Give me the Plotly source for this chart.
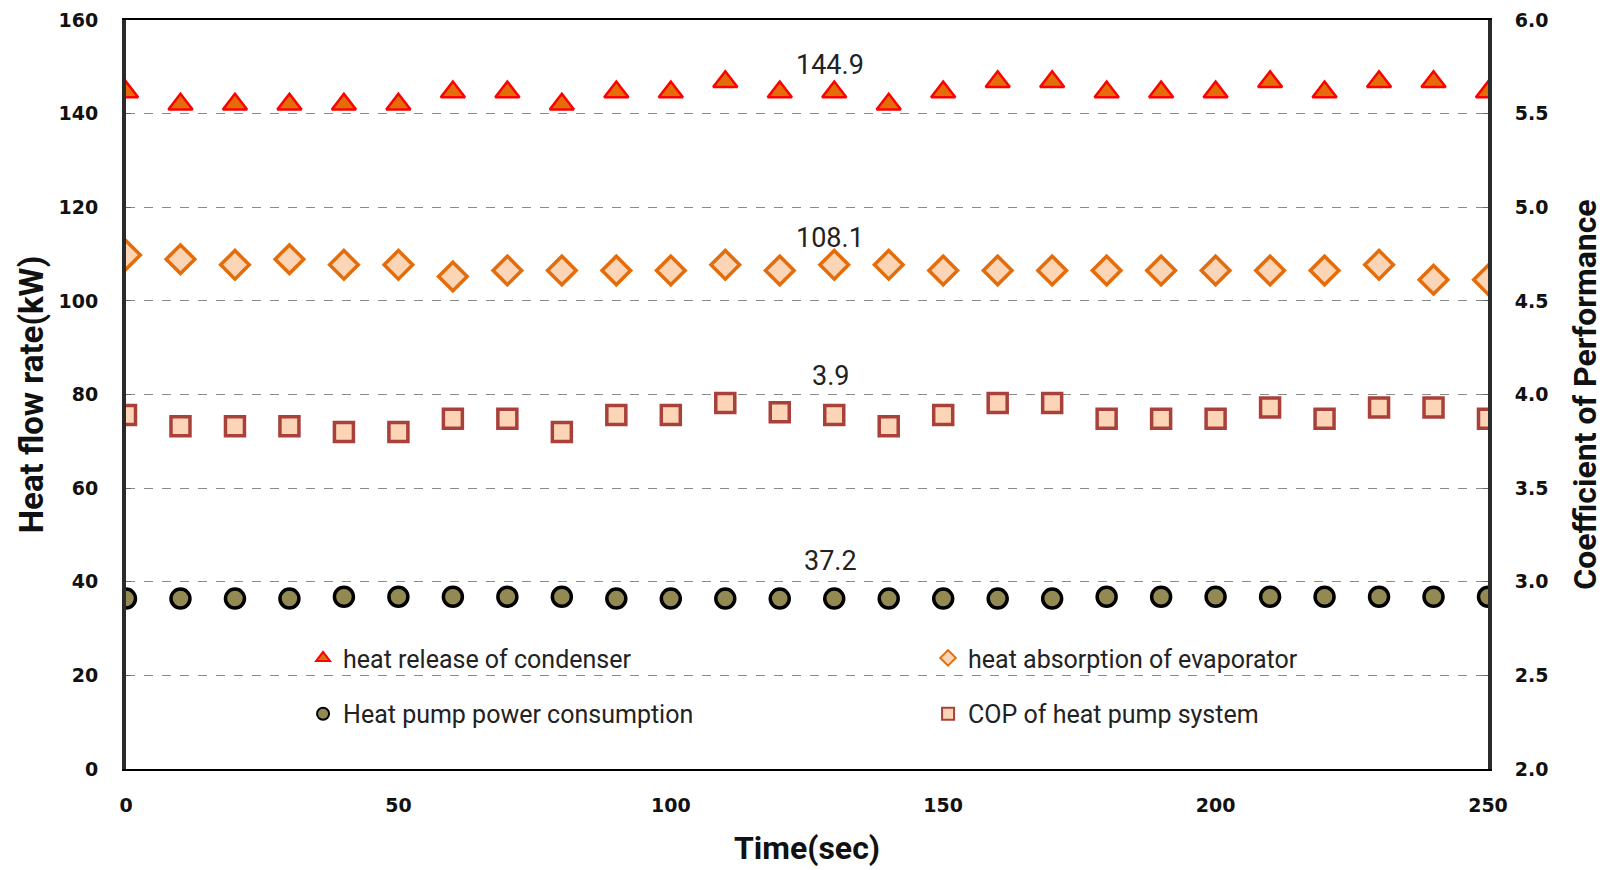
import plotly.graph_objects as go

time_s = [0, 10, 20, 30, 40, 50, 60, 70, 80, 90, 100, 110, 120, 130, 140, 150,
          160, 170, 180, 190, 200, 210, 220, 230, 240, 250]

condenser = [144.6, 142.0, 142.0, 142.0, 142.0, 142.0, 144.6, 144.6, 142.0, 144.6,
             144.6, 146.8, 144.6, 144.6, 142.0, 144.6, 146.8, 146.8, 144.6, 144.6,
             144.6, 146.8, 144.6, 146.8, 146.8, 144.6]

evaporator = [109.8, 108.9, 107.7, 108.9, 107.7, 107.7, 105.2, 106.5, 106.5, 106.5,
              106.5, 107.7, 106.5, 107.7, 107.7, 106.5, 106.5, 106.5, 106.5, 106.5,
              106.5, 106.5, 106.5, 107.7, 104.5, 104.5]

power = [36.4, 36.4, 36.4, 36.4, 36.8, 36.8, 36.8, 36.8, 36.8, 36.4,
         36.4, 36.4, 36.4, 36.4, 36.4, 36.4, 36.4, 36.4, 36.8, 36.8,
         36.8, 36.8, 36.8, 36.8, 36.8, 36.8]

cop = [3.89, 3.83, 3.83, 3.83, 3.80, 3.80, 3.87, 3.87, 3.80, 3.89,
       3.89, 3.955, 3.905, 3.89, 3.83, 3.89, 3.955, 3.955, 3.87, 3.87,
       3.87, 3.93, 3.87, 3.93, 3.93, 3.87]

avg_labels = ["144.9", "108.1", "3.9", "37.2"]
avg_label_x = 129.3
avg_label_y = [150.4, 113.4, 83.9, 44.4]

names = ["heat release of condenser", "heat absorption of evaporator",
         "Heat pump power consumption", "COP of heat pump system"]

NARROW = "Liberation Sans Narrow, Arial Narrow, Roboto, sans-serif"
TICKF = dict(family="DejaVu Sans, Verdana, sans-serif", size=19, color="#111", weight="bold")

fig = go.Figure()
fig.add_trace(go.Scatter(
    x=time_s, y=condenser, mode="markers", name=names[0], legend="legend",
    marker=dict(symbol="triangle-up", size=21, color="#E46C0A",
                line=dict(color="#FF0000", width=2.5))))
fig.add_trace(go.Scatter(
    x=time_s, y=evaporator, mode="markers", name=names[1], legend="legend",
    marker=dict(symbol="diamond", size=22, color="#FBD5B5",
                line=dict(color="#E46C0A", width=3.5))))
fig.add_trace(go.Scatter(
    x=time_s, y=power, mode="markers", name=names[2], legend="legend2",
    marker=dict(symbol="circle", size=19, color="#938953",
                line=dict(color="#000000", width=3.5))))
fig.add_trace(go.Scatter(
    x=time_s, y=cop, mode="markers", name=names[3], legend="legend2", yaxis="y2",
    marker=dict(symbol="square", size=19, color="#FBD5B5",
                line=dict(color="#A9403C", width=3.5))))

for t, yv in zip(avg_labels, avg_label_y):
    fig.add_annotation(x=avg_label_x, y=yv, xref="x", yref="y", text=t,
                       showarrow=False,
                       font=dict(family=NARROW, size=27, color="#222"))

leg_common = dict(orientation="h", xanchor="left", yanchor="middle",
                  bgcolor="rgba(0,0,0,0)", entrywidth=580, entrywidthmode="pixels",
                  itemsizing="constant",
                  font=dict(family=NARROW, size=25, color="#222"))

fig.update_layout(
    width=1598, height=862,
    margin=dict(l=118, r=118, t=12, b=101),
    paper_bgcolor="white", plot_bgcolor="white",
    showlegend=True,
    legend=dict(x=0.13, y=0.148, **leg_common),
    legend2=dict(x=0.13, y=0.0735, **leg_common),
    xaxis=dict(range=[0, 250], dtick=50, tick0=0, showgrid=False, zeroline=False,
               automargin=False,
               showline=True, linecolor="#000", linewidth=2, mirror=True,
               ticks="", tickfont=TICKF, ticklabelstandoff=18,
               title=dict(text="<b>Time(sec)</b>", font=dict(family=NARROW, size=32, color="#111"),
                          standoff=22)),
    yaxis=dict(range=[0, 160], dtick=20, tick0=0, showgrid=True, gridcolor="#8a8a8a",
               griddash="dash", gridwidth=1, zeroline=False, automargin=False,
               showline=True, linecolor="#2a2a2a", linewidth=4,
               ticks="inside", ticklen=5, tickcolor="#666", tickfont=TICKF,
               ticklabelstandoff=20,
               title=dict(text="<b>Heat flow rate(kW)</b>", font=dict(family=NARROW, size=33, color="#111"),
                          standoff=6)),
    yaxis2=dict(range=[2.0, 6.0], dtick=0.5, tick0=2.0, tickformat=".1f", overlaying="y",
                side="right", showgrid=False, zeroline=False, automargin=False,
                showline=True, linecolor="#2a2a2a", linewidth=4,
                ticks="inside", ticklen=5, tickcolor="#666", tickfont=TICKF,
                ticklabelstandoff=19,
                title=dict(text="<b>Coefficient of Performance</b>",
                           font=dict(family=NARROW, size=32, color="#111"), standoff=27)),
)

fig.write_html("out.html")
